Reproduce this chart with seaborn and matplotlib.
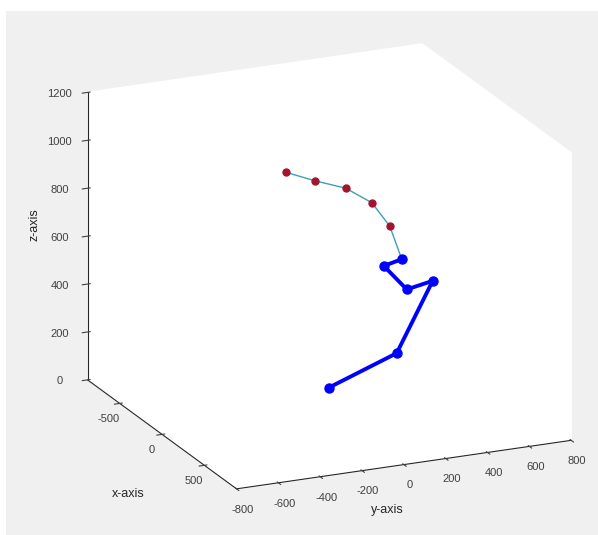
import numpy as np
import matplotlib
matplotlib.use("Agg")
import matplotlib.pyplot as plt
import seaborn as sns
from matplotlib.patches import Rectangle

sns.set_style("white")
plt.rcParams['font.family'] = ['Liberation Sans', 'DejaVu Sans']
plt.rcParams['axes.unicode_minus'] = False

# reference trajectory (thin line, red markers)
ref_x = [0, 0, 0, 0, 0, 0]
ref_y = [-208, -69, 79, 203, 289, 346]
ref_z = [1019, 966, 916, 840, 731, 586]

# arm links (thick blue)
arm_x = [0, 0, 0, 0, 0, 0]
arm_y = [346, 260, 370, 494, 322, -3]
arm_z = [586, 569, 457, 477, 197, 94]

x_ticks = [-500, 0, 500]
y_ticks = [-800, -600, -400, -200, 0, 200, 400, 600, 800]
z_ticks = [0, 200, 400, 600, 800, 1000, 1200]

W, H = 598, 535
fig = plt.figure(figsize=(W / 100, H / 100), dpi=100, facecolor='white')
# grey figure area of the screenshot
fig.patches.append(Rectangle((6 / W, 0), 1, 1 - 11 / H, transform=fig.transFigure,
                             facecolor='#f0f0f0', edgecolor='none', zorder=-10))

ax = fig.add_axes([0.0387, -0.0114, 1.0, 1.0], projection='3d')
ax.set_proj_type('ortho')
ax.view_init(elev=19, azim=-24)
ax.set_box_aspect((1, 1, 0.83), zoom=1.09)
ax.patch.set_alpha(0)

ax.plot(ref_x, ref_y, ref_z, color='#3f9fb5', lw=1.0, zorder=3)
ax.plot(ref_x[:-1], ref_y[:-1], ref_z[:-1], ls='none', marker='o', ms=5,
        color='#a2142f', zorder=4)
ax.plot(arm_x, arm_y, arm_z, color='#0000ff', lw=2.8, marker='o', ms=6.5, zorder=5)

ax.set_xlim(-880, 880)
ax.set_ylim(-800, 800)
ax.set_zlim(0, 1200)
ax.set_xticks(x_ticks)
ax.set_yticks(y_ticks)
ax.set_zticks(z_ticks)
ax.tick_params(labelsize=8, colors='#404040')
ax.tick_params(axis='x', pad=-1.5)
ax.tick_params(axis='y', pad=0)
ax.grid(False)
ax.zaxis.set_ticks_position('lower')
ax.zaxis.set_label_position('lower')

for axis in (ax.xaxis, ax.yaxis, ax.zaxis):
    axis.set_pane_color((1, 1, 1, 1))
    axis.pane.set_edgecolor('white')
    axis.line.set_color('#262626')
    axis.line.set_linewidth(0.8)

# axis titles, placed as in the screenshot
fig.text(128 / W, 1 - 494 / H, 'x-axis', fontsize=9, color='#262626', ha='center', va='center')
fig.text(387 / W, 1 - 510 / H, 'y-axis', fontsize=9, color='#262626', ha='center', va='center')
fig.text(35 / W, 1 - 225 / H, 'z-axis', fontsize=9, color='#262626', ha='center', va='center',
         rotation=90)

fig.savefig('out.png', dpi=100, facecolor=fig.get_facecolor())
